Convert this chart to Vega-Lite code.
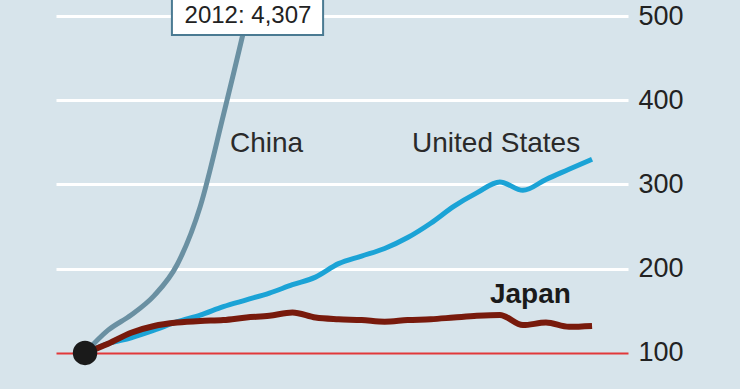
{
  "$schema": "https://vega.github.io/schema/vega-lite/v6.json",
  "width": 572,
  "height": 389,
  "autosize": {"type": "none"},
  "padding": {"left": 56, "right": 112, "top": 0, "bottom": 0},
  "background": "#d7e4eb",
  "config": {"view": {"stroke": null}, "font": "Liberation Sans"},
  "datasets": {
    "series": [
      {"country": "China", "year": 1990, "value": 100},
      {"country": "China", "year": 1991, "value": 127},
      {"country": "China", "year": 1992, "value": 145},
      {"country": "China", "year": 1993, "value": 168},
      {"country": "China", "year": 1994, "value": 205},
      {"country": "China", "year": 1995, "value": 274},
      {"country": "China", "year": 1996, "value": 382},
      {"country": "China", "year": 1997, "value": 496},
      {"country": "China", "year": 1998, "value": 620},
      {"country": "China", "year": 1999, "value": 760},
      {"country": "China", "year": 2000, "value": 900},
      {"country": "China", "year": 2001, "value": 1050},
      {"country": "China", "year": 2002, "value": 1200},
      {"country": "China", "year": 2003, "value": 1400},
      {"country": "China", "year": 2004, "value": 1650},
      {"country": "China", "year": 2005, "value": 1900},
      {"country": "China", "year": 2006, "value": 2200},
      {"country": "China", "year": 2007, "value": 2500},
      {"country": "China", "year": 2008, "value": 2800},
      {"country": "China", "year": 2009, "value": 3100},
      {"country": "China", "year": 2010, "value": 3500},
      {"country": "China", "year": 2011, "value": 3900},
      {"country": "China", "year": 2012, "value": 4307},
      {"country": "United States", "year": 1990, "value": 100},
      {"country": "United States", "year": 1991, "value": 111},
      {"country": "United States", "year": 1992, "value": 118},
      {"country": "United States", "year": 1993, "value": 127},
      {"country": "United States", "year": 1994, "value": 137},
      {"country": "United States", "year": 1995, "value": 145},
      {"country": "United States", "year": 1996, "value": 155},
      {"country": "United States", "year": 1997, "value": 163},
      {"country": "United States", "year": 1998, "value": 171},
      {"country": "United States", "year": 1999, "value": 181},
      {"country": "United States", "year": 2000, "value": 190},
      {"country": "United States", "year": 2001, "value": 206},
      {"country": "United States", "year": 2002, "value": 215},
      {"country": "United States", "year": 2003, "value": 224},
      {"country": "United States", "year": 2004, "value": 237},
      {"country": "United States", "year": 2005, "value": 254},
      {"country": "United States", "year": 2006, "value": 274},
      {"country": "United States", "year": 2007, "value": 290},
      {"country": "United States", "year": 2008, "value": 303},
      {"country": "United States", "year": 2009, "value": 293},
      {"country": "United States", "year": 2010, "value": 306},
      {"country": "United States", "year": 2011, "value": 318},
      {"country": "United States", "year": 2012, "value": 330},
      {"country": "Japan", "year": 1990, "value": 100},
      {"country": "Japan", "year": 1991, "value": 111},
      {"country": "Japan", "year": 1992, "value": 124},
      {"country": "Japan", "year": 1993, "value": 132},
      {"country": "Japan", "year": 1994, "value": 136},
      {"country": "Japan", "year": 1995, "value": 138},
      {"country": "Japan", "year": 1996, "value": 139},
      {"country": "Japan", "year": 1997, "value": 142},
      {"country": "Japan", "year": 1998, "value": 144},
      {"country": "Japan", "year": 1999, "value": 148},
      {"country": "Japan", "year": 2000, "value": 142},
      {"country": "Japan", "year": 2001, "value": 140},
      {"country": "Japan", "year": 2002, "value": 139},
      {"country": "Japan", "year": 2003, "value": 137},
      {"country": "Japan", "year": 2004, "value": 139},
      {"country": "Japan", "year": 2005, "value": 140},
      {"country": "Japan", "year": 2006, "value": 142},
      {"country": "Japan", "year": 2007, "value": 144},
      {"country": "Japan", "year": 2008, "value": 145},
      {"country": "Japan", "year": 2009, "value": 133},
      {"country": "Japan", "year": 2010, "value": 136},
      {"country": "Japan", "year": 2011, "value": 131},
      {"country": "Japan", "year": 2012, "value": 132}
    ]
  },
  "encoding": {
    "x": {"field": "year", "type": "quantitative", "scale": {"domain": [1988.74, 2013.56], "nice": false, "zero": false}, "axis": null},
    "y": {
      "field": "value", "type": "quantitative",
      "scale": {"domain": [57.14, 519.05], "nice": false, "zero": false},
      "axis": {
        "orient": "right", "values": [100, 200, 300, 400, 500], "title": null,
        "domain": false, "ticks": false, "labelPadding": 10,
        "labelFontSize": 27, "labelColor": "#222222", "labelFont": "Liberation Sans",
        "grid": true,
        "gridColor": {"condition": {"test": "datum.value === 100", "value": "#e2383a"}, "value": "#ffffff"},
        "gridWidth": {"condition": {"test": "datum.value === 100", "value": 2}, "value": 3},
        "gridOpacity": 1
      }
    }
  },
  "layer": [
    {
      "data": {"name": "series"},
      "transform": [{"filter": "datum.country === 'China'"}],
      "mark": {"type": "line", "color": "#6a90a2", "strokeWidth": 5, "clip": true, "interpolate": "monotone"}
    },
    {
      "data": {"name": "series"},
      "transform": [{"filter": "datum.country === 'United States'"}],
      "mark": {"type": "line", "color": "#1ba3d6", "strokeWidth": 5, "clip": true, "interpolate": "monotone"}
    },
    {
      "data": {"name": "series"},
      "transform": [{"filter": "datum.country === 'Japan'"}],
      "mark": {"type": "line", "color": "#781a0c", "strokeWidth": 6, "clip": true, "interpolate": "monotone"}
    },
    {
      "data": {"values": [{"year": 1990, "value": 100}]},
      "mark": {"type": "circle", "color": "#1a1a1a", "opacity": 1, "size": 600}
    },
    {
      "data": {"values": [{"year": 1993.77, "year2": 2000.33, "value": 477.4, "value2": 545}]},
      "mark": {"type": "rect", "fill": "#ffffff", "stroke": "#4a7a92", "strokeWidth": 2, "clip": true},
      "encoding": {"x2": {"field": "year2"}, "y2": {"field": "value2"}}
    },
    {
      "data": {"values": [{"year": 1997.07, "value": 500, "label": "2012: 4,307"}]},
      "mark": {"type": "text", "align": "center", "baseline": "middle", "fontSize": 24, "color": "#222222"},
      "encoding": {"text": {"field": "label"}}
    },
    {
      "data": {"values": [
        {"year": 1996.29, "value": 347.6, "label": "China"},
        {"year": 2004.19, "value": 347.6, "label": "United States"}
      ]},
      "mark": {"type": "text", "align": "left", "baseline": "middle", "fontSize": 28, "color": "#2a2a2a"},
      "encoding": {"text": {"field": "label"}}
    },
    {
      "data": {"values": [{"year": 2007.57, "value": 169, "label": "Japan"}]},
      "mark": {"type": "text", "align": "left", "baseline": "middle", "fontSize": 28, "fontWeight": "bold", "color": "#1a1a1a"},
      "encoding": {"text": {"field": "label"}}
    }
  ]
}
